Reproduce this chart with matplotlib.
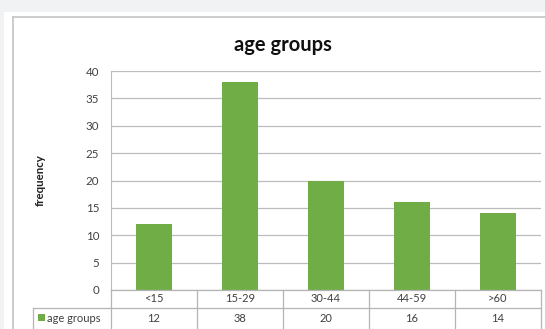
import matplotlib.pyplot as plt
from matplotlib.patches import Rectangle

categories = ['<15', '15-29', '30-44', '44-59', '>60']
frequency = [12, 38, 20, 16, 14]
series_name = 'age groups'
yticks = [0, 5, 10, 15, 20, 25, 30, 35, 40]

W, H = 545, 329
green = '#70ad47'
grid = '#bcbcbc'
txt = '#404040'
plt.rcParams['font.family'] = ['Lato', 'DejaVu Sans']

fig = plt.figure(figsize=(W / 100, H / 100), dpi=100)
fig.patch.set_facecolor('white')

# grey page strip and chart border
fig.patches.append(Rectangle((0, 1 - 12 / H), 1, 12 / H, transform=fig.transFigure,
                             facecolor='#f1f2f4', edgecolor='none', zorder=0))
fig.patches.append(Rectangle((0, 0), 4 / W, 1, transform=fig.transFigure,
                             facecolor='#f1f2f4', edgecolor='none', zorder=0))
fig.add_artist(plt.Line2D([13 / W, 13 / W], [0, 1 - 17 / H], color='#c4c4c4', lw=1.2))
fig.add_artist(plt.Line2D([13 / W, 1], [1 - 17 / H, 1 - 17 / H], color='#c4c4c4', lw=1.2))

x0, x1 = 111, 541
ytop, ybot = 71, 290
ax = fig.add_axes([x0 / W, (H - ybot) / H, (x1 - x0) / W, (ybot - ytop) / H])
pos = list(range(len(categories)))
ax.bar(pos, frequency, width=0.41, color=green, zorder=3)
ax.set_xlim(-0.5, len(categories) - 0.5)
ax.set_ylim(0, 40)
ax.set_yticks(yticks)
ax.set_xticks([])
ax.tick_params(axis='y', length=0, pad=8.5, labelsize=8.3, labelcolor=txt)
ax.grid(axis='y', color=grid, lw=0.9, zorder=0)
for s in ['top', 'right', 'bottom']:
    ax.spines[s].set_visible(False)
ax.spines['left'].set_color(grid)
ax.set_ylabel('frequency', fontsize=8.3, fontweight='bold', color='#222222', labelpad=29)
fig.text(283 / W, 1 - 45 / H, 'age groups', ha='center', va='center',
         fontsize=14.5, fontweight='bold', color='#111111')

# data table under the plot, y in pixels from the plot bottom
tb = fig.add_axes([x0 / W, 0, (x1 - x0) / W, (H - ybot) / H])
tb.set_xlim(-0.5, len(categories) - 0.5)
tb.set_ylim(H - ybot, 0)
tb.axis('off')
left = -0.5 - (x0 - 33) / ((x1 - x0) / len(categories))
r1, r2 = 18, 45
lk = dict(color='#b4b4b4', lw=0.9, clip_on=False)
tb.plot([-0.5, 4.5], [0, 0], **lk)
tb.plot([left, 4.5], [r1, r1], **lk)
tb.plot([left, left], [r1, r2], **lk)
for i in range(len(categories) + 1):
    tb.plot([i - 0.5, i - 0.5], [0, r2], **lk)
for i, (c, v) in enumerate(zip(categories, frequency)):
    tb.text(i, r1 / 2, c, ha='center', va='center', fontsize=8, color=txt)
    tb.text(i, r1 + 10, str(v), ha='center', va='center', fontsize=8, color=txt)
tb.add_patch(Rectangle((left + 0.06, r1 + 6), 0.08, 7, facecolor=green,
                       edgecolor='none', clip_on=False))
tb.text(left + 0.165, r1 + 10, series_name, ha='left', va='center', fontsize=8, color=txt)

fig.savefig('out.png', dpi=100)
